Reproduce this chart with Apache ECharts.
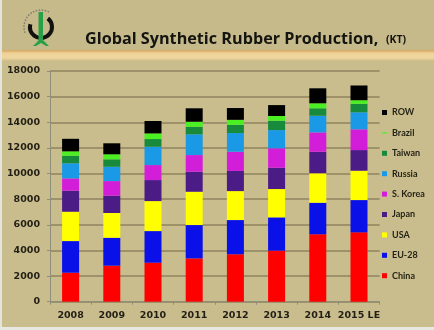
<!DOCTYPE html>
<html>
<head>
<meta charset="utf-8">
<script src="https://cdn.jsdelivr.net/npm/echarts@6/dist/echarts.min.js"></script>
<style>
html,body{margin:0;padding:0;background:#ffffff;}
#chart{width:434px;height:330px;}
</style>
</head>
<body>
<div id="chart"></div>
<script>
const categories = ['2008','2009','2010','2011','2012','2013','2014','2015 LE'];
const yTicks = [0,2000,4000,6000,8000,10000,12000,14000,16000,18000];
const china   = [2260, 2810, 3040, 3380, 3700, 3980, 5260, 5410];
const eu28    = [2470, 2180, 2470, 2600, 2670, 2600, 2460, 2520];
const usa     = [2290, 1930, 2340, 2600, 2260, 2210, 2300, 2290];
const japan   = [1640, 1350, 1640, 1560, 1570, 1660, 1680, 1610];
const skorea  = [960, 1140, 1170, 1300, 1500, 1520, 1510, 1620];
const russia  = [1180, 1120, 1430, 1620, 1460, 1420, 1300, 1330];
const taiwan  = [590, 580, 600, 590, 640, 730, 580, 660];
const brazil  = [340, 390, 440, 390, 390, 370, 390, 280];
const row     = [980, 860, 970, 1050, 920, 850, 1170, 1150];
const seriesNames = ['China','EU-28','USA','Japan','S. Korea','Russia','Taiwan','Brazil','ROW'];
const seriesData = [china, eu28, usa, japan, skorea, russia, taiwan, brazil, row];
const colors = ['#ff0000','#0a10e8','#ffff00','#4b1c86','#d21ed8','#1a9ae6','#178a3c','#4af022','#000000'];

const chart = echarts.init(document.getElementById('chart'), null, {renderer:'canvas'});
const series = seriesNames.map((n,i)=>({
  name:n, type:'bar', stack:'total', data:seriesData[i], barWidth:17,
  itemStyle:{color:colors[i]}, emphasis:{disabled:true}
}));
const legendData = seriesNames.slice().reverse().map(n=>{
  if(n==='Brazil') return {name:n, icon:'path://M0,0L10,0L10,2.2L0,2.2Z'};
  return {name:n, icon:'rect'};
});
chart.setOption({
  backgroundColor:'#c9bd8e',
  animation:false,
  grid:{left:50, right:54.4, top:71, bottom:28.3},
  legend:{
    orient:'vertical', left:382, top:108, padding:0, itemWidth:5, itemHeight:5, itemGap:11.4,
    data:legendData, selectedMode:false,
    textStyle:{fontFamily:'Lato', fontWeight:'bold', fontSize:9, color:'#262416'}
  },
  xAxis:{
    type:'category', data:categories,
    axisLine:{lineStyle:{color:'#8f8e7a', width:1}},
    axisTick:{show:true, length:3, lineStyle:{color:'#8f8e7a'}},
    axisLabel:{interval:0, fontFamily:'DejaVu Sans', fontWeight:'bold', fontSize:9.5, color:'#231f14', margin:9}
  },
  yAxis:{
    type:'value', min:yTicks[0], max:yTicks[yTicks.length-1], interval:yTicks[1]-yTicks[0],
    axisLine:{show:true, lineStyle:{color:'#8f8e7a', width:1}},
    axisTick:{show:true, length:3, lineStyle:{color:'#8f8e7a'}},
    axisLabel:{formatter:(v)=>String(v), fontFamily:'DejaVu Sans', fontWeight:'bold', fontSize:9.5, color:'#231f14', margin:10},
    splitLine:{lineStyle:{color:'#8e855e', width:1.5}}
  },
  series:series,
  graphic:[
    {type:'rect', shape:{x:0,y:0,width:434,height:50}, style:{fill:'#c6ba8a'}, z:-1},
    {type:'rect', shape:{x:0,y:50,width:434,height:11}, style:{fill:new echarts.graphic.LinearGradient(0,0,0,1,[
      {offset:0,color:'#d6a560'},{offset:0.3,color:'#eed396'},{offset:0.7,color:'#efd7a0'},{offset:1,color:'#cfbd88'}])}},
    {type:'rect', shape:{x:0,y:0,width:2,height:330}, style:{fill:'#e4e4dc'}},
    {type:'rect', shape:{x:0,y:327,width:434,height:3}, style:{fill:'#e8e8e2'}},
    {type:'arc', shape:{cx:41, cy:27, r:17, startAngle:2.8, endAngle:5.2, clockwise:true},
      style:{fill:null, stroke:'#7d7d70', lineWidth:1.5, lineDash:[1.5,1.5]}},
    {type:'arc', shape:{cx:41, cy:27, r:11, startAngle:-0.9, endAngle:3.4, clockwise:true},
      style:{fill:null, stroke:'#111111', lineWidth:4}},
    {type:'rect', shape:{x:38.5, y:12, width:4.5, height:29}, style:{fill:'#28a048'}},
    {type:'polygon', shape:{points:[[33,46],[39,40],[43,40],[49,46],[46,46],[41,43],[36,46]]}, style:{fill:'#28a048'}},
    {type:'text', x:85, y:47, style:{text:'Global Synthetic Rubber Production,', fontFamily:'Open Sans', fontWeight:'bold', fontSize:16.2, fill:'#141410', verticalAlign:'bottom'}},
    {type:'text', x:386, y:45.5, style:{text:'(KT)', fontFamily:'Open Sans', fontWeight:'bold', fontSize:10.5, fill:'#141410', verticalAlign:'bottom'}}
  ]
});
</script>
</body>
</html>
